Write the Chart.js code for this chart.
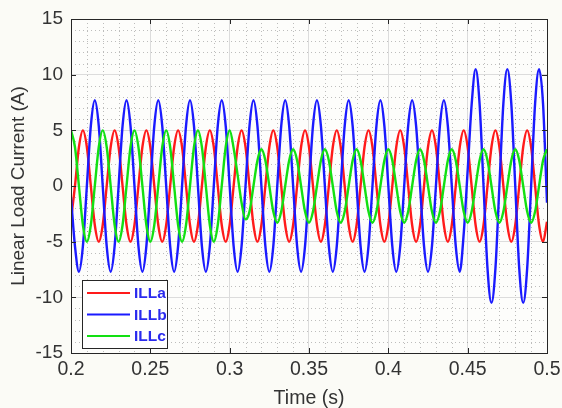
<!DOCTYPE html>
<html>
<head>
<meta charset="utf-8">
<script src="https://cdn.jsdelivr.net/npm/chart.js@4.4.1/dist/chart.umd.min.js"></script>
<style>
    html, body { margin: 0; padding: 0; background: #fbfbf6; }
    #wrap { width: 562px; height: 408px; }
</style>
</head>
<body>
<div id="wrap"><canvas id="myChart" width="562" height="408"></canvas></div>
<script>
// time samples (s), 8 per 50 Hz cycle
const time = [
    0.2, 0.2025, 0.205, 0.2075, 0.21, 0.2125, 0.215, 0.2175,
    0.22, 0.2225, 0.225, 0.2275, 0.23, 0.2325, 0.235, 0.2375,
    0.24, 0.2425, 0.245, 0.2475, 0.25, 0.2525, 0.255, 0.2575,
    0.26, 0.2625, 0.265, 0.2675, 0.27, 0.2725, 0.275, 0.2775,
    0.28, 0.2825, 0.285, 0.2875, 0.29, 0.2925, 0.295, 0.2975,
    0.3, 0.3025, 0.305, 0.3075, 0.31, 0.3125, 0.315, 0.3175,
    0.32, 0.3225, 0.325, 0.3275, 0.33, 0.3325, 0.335, 0.3375,
    0.34, 0.3425, 0.345, 0.3475, 0.35, 0.3525, 0.355, 0.3575,
    0.36, 0.3625, 0.365, 0.3675, 0.37, 0.3725, 0.375, 0.3775,
    0.38, 0.3825, 0.385, 0.3875, 0.39, 0.3925, 0.395, 0.3975,
    0.4, 0.4025, 0.405, 0.4075, 0.41, 0.4125, 0.415, 0.4175,
    0.42, 0.4225, 0.425, 0.4275, 0.43, 0.4325, 0.435, 0.4375,
    0.44, 0.4425, 0.445, 0.4475, 0.45, 0.4525, 0.455, 0.4575,
    0.46, 0.4625, 0.465, 0.4675, 0.47, 0.4725, 0.475, 0.4775,
    0.48, 0.4825, 0.485, 0.4875, 0.49, 0.4925, 0.495, 0.4975,
    0.5
];

const iLLa = [
    -3, 0, 3.5, 5, 3.5, 0, -3.5, -5,
    -3.5, 0, 3.5, 5, 3.5, 0, -3.5, -5,
    -3.5, 0, 3.5, 5, 3.5, 0, -3.5, -5,
    -3.5, 0, 3.5, 5, 3.5, 0, -3.5, -5,
    -3.5, 0, 3.5, 5, 3.5, 0, -3.5, -5,
    -3.5, 0, 3.5, 5, 3.5, 0, -3.5, -5,
    -3.5, 0, 3.5, 5, 3.5, 0, -3.5, -5,
    -3.5, 0, 3.5, 5, 3.5, 0, -3.5, -5,
    -3.5, 0, 3.5, 5, 3.5, 0, -3.5, -5,
    -3.5, 0, 3.5, 5, 3.5, 0, -3.5, -5,
    -3.5, 0, 3.5, 5, 3.5, 0, -3.5, -5,
    -3.5, 0, 3.5, 5, 3.5, 0, -3.5, -5,
    -3.5, 0, 3.5, 5, 3.5, 0, -3.5, -5,
    -3.5, 0, 3.5, 5, 3.5, 0, -3.5, -5,
    -3.5, 0, 3.5, 5, 3.5, 0, -3.5, -5,
    -3.2
];

const iLLb = [
    -1, -5.4, -7.7, -5.4, 0, 5.4, 7.7, 5.4,
    0, -5.4, -7.7, -5.4, 0, 5.4, 7.7, 5.4,
    0, -5.4, -7.7, -5.4, 0, 5.4, 7.7, 5.4,
    0, -5.4, -7.7, -5.4, 0, 5.4, 7.7, 5.4,
    0, -5.4, -7.7, -5.4, 0, 5.4, 7.7, 5.4,
    0, -5.4, -7.7, -5.4, 0, 5.4, 7.7, 5.4,
    0, -5.4, -7.7, -5.4, 0, 5.4, 7.7, 5.4,
    0, -5.4, -7.7, -5.4, 0, 5.4, 7.7, 5.4,
    0, -5.4, -7.7, -5.4, 0, 5.4, 7.7, 5.4,
    0, -5.4, -7.7, -5.4, 0, 5.4, 7.7, 5.4,
    0, -5.4, -7.7, -5.4, 0, 5.4, 7.7, 5.4,
    0, -5.4, -7.7, -5.4, 0, 5.4, 7.7, 5.4,
    0, -5.4, -7.7, -4.3, 1.4, 7.3, 10.5, 7.4,
    0, -7.4, -10.5, -7.4, 0, 7.4, 10.5, 7.4,
    0, -7.4, -10.5, -7.4, 0, 7.4, 10.5, 7.4,
    -1.5
];

const iLLc = [
    5, 3.5, 0, -3.5, -5, -3.5, 0, 3.5,
    5, 3.5, 0, -3.5, -5, -3.5, 0, 3.5,
    5, 3.5, 0, -3.5, -5, -3.5, 0, 3.5,
    5, 3.5, 0, -3.5, -5, -3.5, 0, 3.5,
    5, 3.5, 0, -3.5, -5, -3.5, 0, 3.5,
    5, 3.4, 1, -1.5, -3, -2.3, 0, 2.3,
    3.3, 2.3, 0, -2.3, -3.3, -2.3, 0, 2.3,
    3.3, 2.3, 0, -2.3, -3.3, -2.3, 0, 2.3,
    3.3, 2.3, 0, -2.3, -3.3, -2.3, 0, 2.3,
    3.3, 2.3, 0, -2.3, -3.3, -2.3, 0, 2.3,
    3.3, 2.3, 0, -2.3, -3.3, -2.3, 0, 2.3,
    3.3, 2.3, 0, -2.3, -3.3, -2.3, 0, 2.3,
    3.3, 2.3, 0, -2.3, -3.3, -2.3, 0, 2.3,
    3.3, 2.3, 0, -2.3, -3.3, -2.3, 0, 2.3,
    3.3, 2.3, 0, -2.3, -3.3, -2.3, 0, 2.3,
    3.3
];

const seriesNames = ['ILLa', 'ILLb', 'ILLc'];
const seriesColors = ['#ff1a1a', '#1a1aff', '#12e012'];
const xTicks = [0.2, 0.25, 0.3, 0.35, 0.4, 0.45, 0.5];
const yTicks = [-15, -10, -5, 0, 5, 10, 15];

const FONT = "'Liberation Sans', Arial, Helvetica, sans-serif";

function toPoints(values) {
    return values.map((v, i) => ({ x: time[i], y: v }));
}

// plot background, dotted minor grid, box with inner ticks, legend
const matlabLook = {
    id: 'matlabLook',
    beforeDraw(chart) {
        const { ctx, chartArea: a } = chart;
        ctx.save();
        ctx.fillStyle = '#fdfdfb';
        ctx.fillRect(a.left, a.top, a.right - a.left, a.bottom - a.top);
        ctx.restore();
    },
    beforeDatasetsDraw(chart) {
        const { ctx, chartArea: a, scales } = chart;
        ctx.save();
        ctx.strokeStyle = 'rgba(0,0,0,0.25)';
        ctx.lineWidth = 1;
        ctx.setLineDash([1, 3]);
        for (let i = 1; i < 30; i++) {
            if (i % 5 === 0) continue;
            const px = Math.round(scales.x.getPixelForValue(0.2 + i * 0.01)) + 0.5;
            ctx.beginPath();
            ctx.moveTo(px, a.top);
            ctx.lineTo(px, a.bottom);
            ctx.stroke();
        }
        for (let j = -14; j < 15; j++) {
            if (j % 5 === 0) continue;
            const py = Math.round(scales.y.getPixelForValue(j)) + 0.5;
            ctx.beginPath();
            ctx.moveTo(a.left, py);
            ctx.lineTo(a.right, py);
            ctx.stroke();
        }
        ctx.restore();
    },
    afterDatasetsDraw(chart) {
        const { ctx, chartArea: a, scales } = chart;
        ctx.save();
        ctx.strokeStyle = '#262626';
        ctx.lineWidth = 1;
        ctx.strokeRect(Math.round(a.left) + 0.5, Math.round(a.top) + 0.5,
            Math.round(a.right - a.left), Math.round(a.bottom - a.top));
        ctx.beginPath();
        xTicks.forEach(v => {
            const px = Math.round(scales.x.getPixelForValue(v)) + 0.5;
            ctx.moveTo(px, a.bottom); ctx.lineTo(px, a.bottom - 5);
            ctx.moveTo(px, a.top); ctx.lineTo(px, a.top + 5);
        });
        yTicks.forEach(v => {
            const py = Math.round(scales.y.getPixelForValue(v)) + 0.5;
            ctx.moveTo(a.left, py); ctx.lineTo(a.left + 5, py);
            ctx.moveTo(a.right, py); ctx.lineTo(a.right - 5, py);
        });
        ctx.stroke();
        ctx.restore();
    },
    afterDraw(chart) {
        const { ctx, chartArea: a } = chart;
        const x0 = Math.round(a.left) + 11, y0 = Math.round(a.bottom) - 73;
        const w = 85, h = 68;
        ctx.save();
        ctx.fillStyle = '#ffffff';
        ctx.fillRect(x0, y0, w, h);
        ctx.strokeStyle = '#262626';
        ctx.lineWidth = 1;
        ctx.strokeRect(x0 + 0.5, y0 + 0.5, w, h);
        ctx.font = 'bold 15.5px ' + FONT;
        ctx.textBaseline = 'middle';
        chart.data.datasets.forEach((ds, i) => {
            const ry = y0 + 13 + i * 21.5;
            ctx.strokeStyle = ds.borderColor;
            ctx.lineWidth = 2;
            ctx.beginPath();
            ctx.moveTo(x0 + 5, ry);
            ctx.lineTo(x0 + 48, ry);
            ctx.stroke();
            ctx.fillStyle = '#2a2aee';
            ctx.fillText(ds.label, x0 + 52, ry + 1);
        });
        ctx.restore();
    }
};

const datasets = [iLLa, iLLb, iLLc].map((vals, i) => ({
    label: seriesNames[i],
    data: toPoints(vals),
    borderColor: seriesColors[i],
    borderWidth: 2.4,
    pointRadius: 0,
    fill: false,
    cubicInterpolationMode: 'monotone',
    order: 3 - i
}));

new Chart(document.getElementById('myChart'), {
    type: 'line',
    data: { datasets: datasets },
    options: {
        responsive: false,
        animation: false,
        devicePixelRatio: 1,
        layout: { padding: { left: 0, top: 19, right: 15, bottom: 0 } },
        plugins: { legend: { display: false }, tooltip: { enabled: false } },
        scales: {
            x: {
                type: 'linear',
                min: 0.2,
                max: 0.5,
                afterBuildTicks: s => { s.ticks = xTicks.map(v => ({ value: v })); },
                afterFit: s => { s.height = 55; s.paddingLeft = 0; s.paddingRight = 0; },
                ticks: {
                    padding: 5,
                    color: '#333333',
                    font: { family: FONT, size: 19.5 },
                    maxRotation: 0,
                    callback: v => String(+v.toFixed(2))
                },
                grid: { color: '#dcdcdc', drawTicks: false },
                border: { display: false },
                title: {
                    display: true,
                    text: 'Time (s)',
                    color: '#333333',
                    font: { family: FONT, size: 19.5, lineHeight: 1 },
                    padding: { top: 0, bottom: 0 }
                }
            },
            y: {
                min: -15,
                max: 15,
                afterBuildTicks: s => { s.ticks = yTicks.map(v => ({ value: v })); },
                afterFit: s => { s.width = 71; s.paddingTop = 0; s.paddingBottom = 0; },
                ticks: {
                    padding: 8,
                    color: '#333333',
                    font: { family: FONT, size: 19 }
                },
                grid: { color: '#dcdcdc', drawTicks: false },
                border: { display: false },
                title: {
                    display: true,
                    text: 'Linear Load Current (A)',
                    color: '#333333',
                    font: { family: FONT, size: 19, lineHeight: 1 },
                    padding: { top: 9, bottom: 0 }
                }
            }
        }
    },
    plugins: [matlabLook]
});
</script>
</body>
</html>
